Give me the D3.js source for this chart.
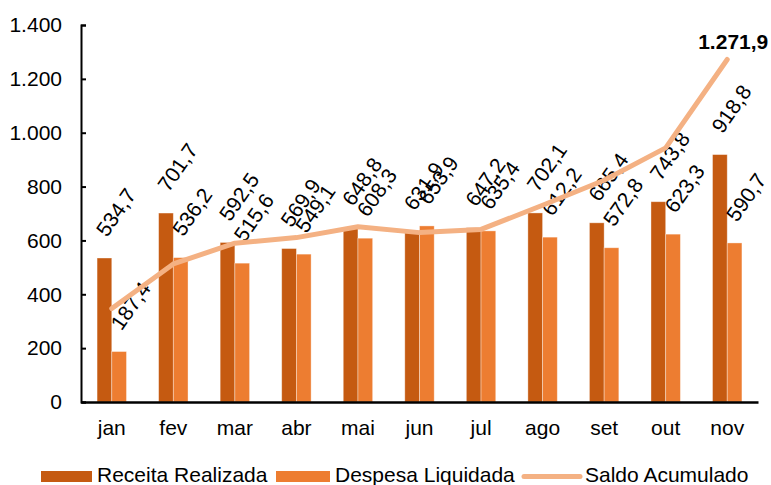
<!DOCTYPE html>
<html>
<head>
<meta charset="utf-8">
<script src="https://cdn.jsdelivr.net/npm/d3@7"></script>
<style>
  html, body { margin: 0; padding: 0; background: #ffffff; }
  svg { display: block; font-family: "Liberation Sans", Arial, sans-serif; }
</style>
</head>
<body>
<svg id="chart" width="771" height="485"></svg>
<script>
const months = ["jan", "fev", "mar", "abr", "mai", "jun", "jul", "ago", "set", "out", "nov"];
const receita = [534.7, 701.7, 592.5, 569.9, 648.8, 631.9, 647.2, 702.1, 665.4, 743.8, 918.8];
const despesa = [187.4, 536.2, 515.6, 549.1, 608.3, 653.9, 635.4, 612.2, 572.8, 623.3, 590.7];
const saldo = [347.3, 512.8, 589.7, 610.5, 651.0, 629.0, 640.8, 730.7, 823.3, 943.8, 1271.9];
const yTicks = [0, 200, 400, 600, 800, 1000, 1200, 1400];
const seriesNames = ["Receita Realizada", "Despesa Liquidada", "Saldo Acumulado"];
const colors = { receita: "#C55A11", despesa: "#ED7D31", saldo: "#F4B183" };

const svg = d3.select("#chart");
const plotLeft = 81, plotRight = 758, plotTop = 25, plotBottom = 402;
const FS = 21;

const x = d3.scaleBand().domain(months).range([plotLeft, plotRight]).paddingInner(0).paddingOuter(0);
const y = d3.scaleLinear().domain([0, 1400]).range([plotBottom, plotTop]);
const barW = 14.7;
const sub = d3.scaleBand().domain(["r", "d"]).range([-barW, barW]);

const fmt = v => {
  const s = v.toFixed(1).split(".");
  const intPart = s[0].replace(/\B(?=(\d{3})+(?!\d))/g, ".");
  return intPart + "," + s[1];
};
const fmtTick = v => String(v).replace(/\B(?=(\d{3})+(?!\d))/g, ".");

// Y axis
const yAxis = d3.axisLeft(y).tickValues(yTicks).tickFormat(fmtTick).tickSize(-5).tickPadding(19);
const gy = svg.append("g").attr("transform", `translate(${plotLeft},0)`).call(yAxis);
gy.select(".domain").attr("stroke", "#000").attr("stroke-width", 2);
gy.selectAll(".tick line").attr("stroke", "#000").attr("stroke-width", 2);
gy.selectAll(".tick text").attr("fill", "#000").attr("font-size", FS).attr("font-family", '"Liberation Sans", Arial, sans-serif');

// Bars
const data = months.map((m, i) => ({ m, r: receita[i], d: despesa[i], s: saldo[i] }));
const groups = svg.append("g").selectAll("g").data(data).join("g")
  .attr("transform", d => `translate(${x(d.m) + x.bandwidth() / 2},0)`);

groups.append("rect")
  .attr("x", sub("r")).attr("width", sub.bandwidth())
  .attr("y", d => y(d.r)).attr("height", d => y(0) - y(d.r))
  .attr("fill", colors.receita).attr("stroke", "rgba(255,255,255,0.45)").attr("stroke-width", 0.8);
groups.append("rect")
  .attr("x", sub("d")).attr("width", sub.bandwidth())
  .attr("y", d => y(d.d)).attr("height", d => y(0) - y(d.d))
  .attr("fill", colors.despesa).attr("stroke", "rgba(255,255,255,0.45)").attr("stroke-width", 0.8);

// X axis
const xAxis = d3.axisBottom(x).tickSize(0).tickPadding(18);
const gx = svg.append("g").attr("transform", `translate(0,${plotBottom})`).call(xAxis);
gx.select(".domain").attr("stroke", "#000").attr("stroke-width", 2.5);
gx.selectAll(".tick text").attr("fill", "#000").attr("font-size", FS).attr("font-family", '"Liberation Sans", Arial, sans-serif');

// Line
const line = d3.line().x(d => x(d.m) + x.bandwidth() / 2).y(d => y(d.s));
svg.append("path").datum(data).attr("d", line)
  .attr("fill", "none").attr("stroke", colors.saldo).attr("stroke-width", 5)
  .attr("stroke-linecap", "round").attr("stroke-linejoin", "round");

// Data labels
const angle = -55;
function addLabels(key, subKey) {
  groups.append("text")
    .attr("transform", d => `translate(${sub(subKey) + sub.bandwidth() / 2 + 2.5},${y(d[key]) - 20}) rotate(${angle})`)
    .attr("font-size", FS).attr("fill", "#000")
    .text(d => fmt(d[key]));
}
addLabels("r", "r");
addLabels("d", "d");

// Last saldo label
const last = data[data.length - 1];
svg.append("text")
  .attr("x", x(last.m) + x.bandwidth() / 2 + 6).attr("y", y(last.s) - 10)
  .attr("text-anchor", "middle").attr("font-size", FS).attr("font-weight", "bold").attr("fill", "#000")
  .text(fmt(last.s));

// Legend
const legend = svg.append("g");
const legendItems = [
  { name: seriesNames[0], type: "rect", color: colors.receita, x0: 41, x1: 92 },
  { name: seriesNames[1], type: "rect", color: colors.despesa, x0: 276, x1: 330 },
  { name: seriesNames[2], type: "line", color: colors.saldo, x0: 524, x1: 580 }
];
legendItems.forEach(it => {
  if (it.type === "rect") {
    legend.append("rect").attr("x", it.x0).attr("y", 471).attr("width", it.x1 - it.x0).attr("height", 11).attr("fill", it.color);
  } else {
    legend.append("line").attr("x1", it.x0).attr("x2", it.x1).attr("y1", 476.5).attr("y2", 476.5)
      .attr("stroke", it.color).attr("stroke-width", 5).attr("stroke-linecap", "round");
  }
  legend.append("text").attr("x", it.x1 + 5).attr("y", 482).attr("font-size", FS).attr("fill", "#000").text(it.name);
});
</script>
</body>
</html>
